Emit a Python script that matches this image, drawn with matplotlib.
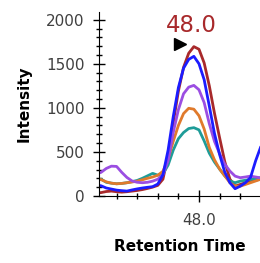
import matplotlib
matplotlib.use("Agg")
import matplotlib.pyplot as plt
from matplotlib.ticker import MultipleLocator, FixedLocator

# retention times (min) shared by all traces
rt = [47.500, 47.525, 47.550, 47.575, 47.600, 47.625, 47.650, 47.675, 47.700,
      47.725, 47.750, 47.775, 47.800, 47.825, 47.850, 47.875, 47.900, 47.925,
      47.950, 47.975, 48.000, 48.025, 48.050, 48.075, 48.100, 48.125, 48.150,
      48.175, 48.200, 48.225, 48.250, 48.275, 48.300]

red = [35, 38, 50, 55, 48, 43, 48, 55, 62, 72, 85, 100, 120, 190, 460, 830, 1190,
       1460, 1620, 1695, 1665, 1510, 1250, 940, 660, 390, 190, 111, 130, 150, 168, 180, 190]
teal = [180, 190, 155, 145, 138, 142, 150, 162, 176, 200, 228, 256, 236, 250, 350, 520, 650,
        720, 765, 775, 750, 625, 485, 385, 305, 228, 170, 150, 168, 178, 187, 197, 207]
orange = [195, 185, 160, 145, 138, 142, 150, 158, 168, 183, 200, 215, 235, 280, 420, 620, 800,
          935, 995, 985, 910, 760, 550, 410, 305, 228, 150, 111, 111, 130, 150, 170, 190]
purple = [250, 268, 312, 338, 335, 268, 210, 170, 155, 150, 155, 168, 190, 240, 400, 720, 980,
          1160, 1235, 1255, 1205, 1060, 820, 620, 480, 360, 282, 225, 207, 215, 225, 215, 205]
blue = [125, 115, 90, 78, 66, 60, 55, 68, 80, 90, 98, 105, 135, 240, 520, 900, 1230,
        1450, 1550, 1585, 1500, 1320, 1020, 710, 470, 270, 150, 82, 111, 150, 210, 400, 560]

series = [(red, "#a8292b"), (teal, "#1e9c98"), (orange, "#e07a2c"),
          (purple, "#9b4ee2"), (blue, "#1c1cff")]

peak_rt = 47.985
peak_label = "48.0"

fig = plt.figure(figsize=(2.6, 2.63), dpi=100)
ax = fig.add_axes([0.381, 0.255, 0.619, 0.70])

for vals, col in series:
    ax.plot(rt, vals, color=col, lw=2, solid_joinstyle="round", solid_capstyle="round")

ax.set_xlim(47.515, 48.296)
ax.set_ylim(0, 2090)

ax.text(peak_rt - 0.02, 1860, peak_label, color="#a8292b", fontsize=16.5,
        ha="center", va="baseline")
ax.plot([peak_rt - 0.077], [1720], marker=">", color="black", markersize=9, clip_on=False)

ax.spines["top"].set_visible(False)
ax.spines["right"].set_visible(False)

ax.xaxis.set_major_locator(FixedLocator([48.0]))
ax.xaxis.set_minor_locator(MultipleLocator(0.1))
ax.set_xticklabels(["48.0"])
ax.yaxis.set_major_locator(MultipleLocator(500))
ax.yaxis.set_minor_locator(MultipleLocator(100))

ax.tick_params(which="major", direction="inout", length=9, width=1, labelsize=11,
               labelcolor="#404040")
ax.tick_params(which="minor", direction="inout", length=5, width=1)
ax.tick_params(axis="x", which="major", pad=8)
ax.tick_params(axis="y", which="major", pad=6)

ax.set_xlabel("Retention Time", fontsize=11, fontweight="bold", labelpad=8)
ax.set_ylabel("Intensity", fontsize=11, fontweight="bold", labelpad=10)

fig.savefig("out.png", dpi=100)
